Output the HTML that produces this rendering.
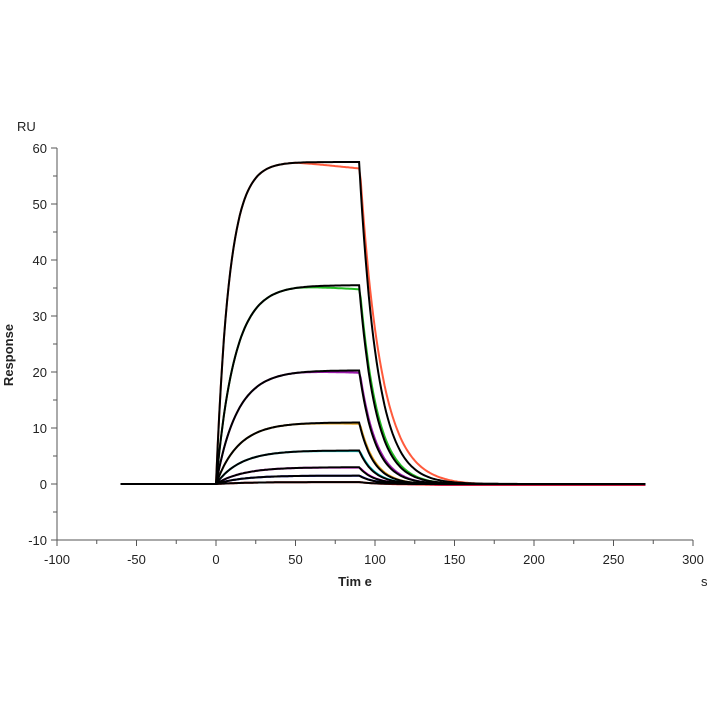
<!DOCTYPE html><html><head><style>body{margin:0;background:#fff}svg{display:block}text{font-family:"Liberation Sans",Arial,sans-serif;fill:#222}</style></head><body>
<svg id="s" width="708" height="708" viewBox="0 0 708 708">
<rect width="708" height="708" fill="#fff"/>
<g stroke="#555" stroke-width="1" id="ax"></g>
<g id="lab" font-size="13"></g>
<text x="17" y="131" font-size="13">RU</text>
<text x="13" y="355" font-size="13" font-weight="bold" transform="rotate(-90 13 355)" text-anchor="middle">Response</text>
<text x="355" y="586" font-size="13" font-weight="bold" text-anchor="middle">Tim e</text>
<text x="701" y="586" font-size="13">s</text>
<g id="cv" fill="none" stroke-width="2"></g>
</svg>
<script>
const X=t=>216+t*1.59, Y=v=>484-v*5.6;
let ax=document.getElementById('ax'),lab=document.getElementById('lab'),cv=document.getElementById('cv');
let h='<line x1="57" y1="148" x2="57" y2="540"/><line x1="57" y1="540" x2="693" y2="540"/>',l='';
for(let v=-10;v<=60;v+=5){let y=Y(v);h+=`<line x1="${v%10?53:51}" y1="${y}" x2="57" y2="${y}"/>`;if(v%10==0)l+=`<text x="47" y="${y+5}" text-anchor="end">${v}</text>`;}
for(let t=-100;t<=300;t+=25){let x=X(t);h+=`<line x1="${x}" y1="540" x2="${x}" y2="${t%50?544:546}"/>`;if(t%50==0)l+=`<text x="${x}" y="564" text-anchor="middle">${t}</text>`;}
ax.innerHTML=h;lab.innerHTML=l;
const ser=[[57.5,0.12,0.088,'#ff5a3c'],[35.5,0.085,0.095,'#22bb22'],[20.3,0.075,0.1,'#9a1aaa'],[11,0.07,0.11,'#e0a020'],[6,0.065,0.11,'#10d0d0'],[3,0.06,0.11,'#ee10ee'],[1.5,0.06,0.11,'#1010ee'],[0.35,0.05,0.11,'#ee1010']];
function path(R,k,kd,dt,dev,off){let p='M'+X(-60)+' '+Y(0);for(let t=-60;t<=270;t+=1){let v;if(t<0)v=0;else if(t<=90)v=R*(1-Math.exp(-k*t))*(1-dev*Math.max(0,t-50)/40);else{let v0=R*(1-Math.exp(-k*90))*(1-dev);v=v0*Math.exp(-kd*Math.max(0,t-90-dt))-off*Math.min(1,(t-90)/60);}p+=' L'+X(t).toFixed(1)+' '+Y(v).toFixed(1);}return p;}
let s='';ser.forEach((a,i)=>{s+=`<path d="${path(a[0],a[1],a[2]*(i==0?0.85:0.95),0.5,0.02,0.15)}" stroke="${a[3]}"/>`});
ser.forEach(a=>{s+=`<path d="${path(a[0],a[1],a[2],0,0,0)}" stroke="#000"/>`});
cv.innerHTML=s;
</script></body></html>
